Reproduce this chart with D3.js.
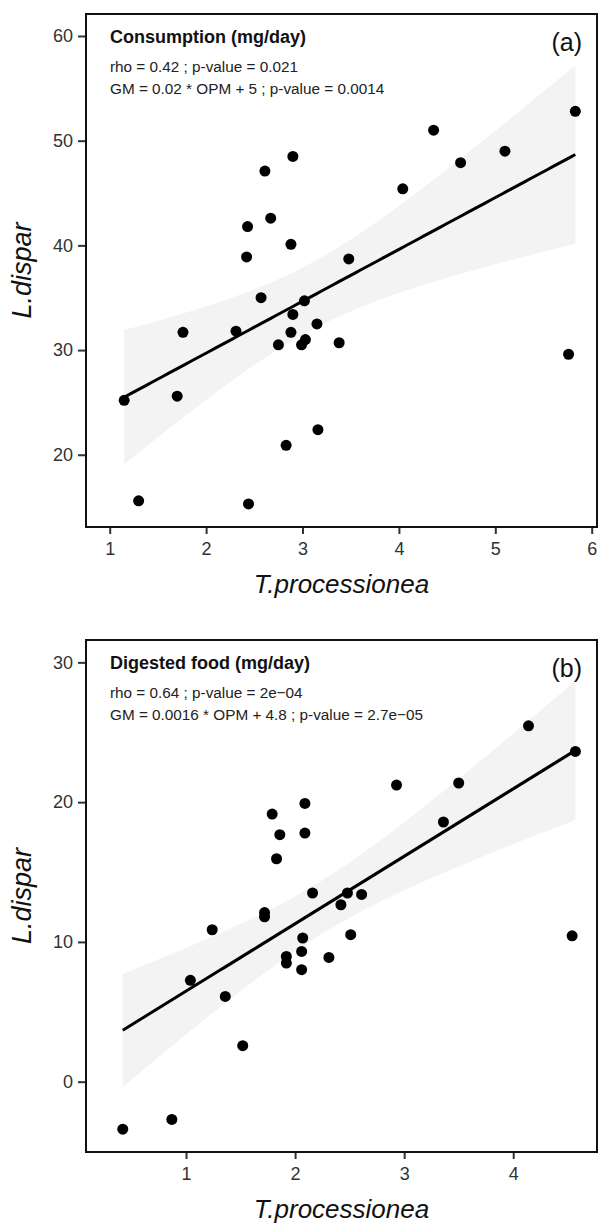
<!DOCTYPE html>
<html>
<head>
<meta charset="utf-8">
<script src="https://cdn.jsdelivr.net/npm/d3@7"></script>
<style>
body { margin: 0; background: #fff; }
svg { display: block; }
text { font-family: "Liberation Sans", Arial, sans-serif; }
</style>
</head>
<body>
<svg id="chart" width="598" height="1226"></svg>
<script>
// (a) consumption, mg/day
const consX = [1.15, 1.30, 1.70, 1.76, 2.31, 2.42, 2.43, 2.44, 2.57, 2.61, 2.67, 2.75, 2.83, 2.88, 2.88,
	2.90, 2.90, 2.99, 3.03, 3.02, 3.15, 3.16, 3.38, 3.48, 4.04, 4.36, 4.64, 5.10, 5.76, 5.83]
const consY = [25.2, 15.6, 25.6, 31.7, 31.8, 38.9, 41.8, 15.3, 35.0, 47.1, 42.6, 30.5, 20.9, 40.1, 31.7,
	33.4, 48.5, 30.5, 31.0, 34.7, 32.5, 22.4, 30.7, 38.7, 45.4, 51.0, 47.9, 49.0, 29.6, 52.8]

// (b) digested food, mg/day
const digX = [0.42, 0.87, 1.04, 1.24, 1.36, 1.52, 1.72, 1.72, 1.79, 1.83, 1.86, 1.92, 1.92, 2.06, 2.06,
	2.07, 2.09, 2.09, 2.16, 2.31, 2.42, 2.48, 2.51, 2.61, 2.93, 3.36, 3.50, 4.14, 4.54, 4.57]
const digY = [-3.4, -2.7, 7.25, 10.87, 6.1, 2.58, 12.1, 11.8, 19.15, 15.95, 17.67, 8.96, 8.49, 9.32, 8.01,
	10.28, 19.91, 17.79, 13.5, 8.89, 12.66, 13.5, 10.52, 13.4, 21.22, 18.58, 21.37, 25.46, 10.44, 23.63]

const consXTicks = [1, 2, 3, 4, 5, 6]
const consYTicks = [20, 30, 40, 50, 60]
const digXTicks = [1, 2, 3, 4]
const digYTicks = [0, 10, 20, 30]

const panelTitles = ["Consumption (mg/day)", "Digested food (mg/day)"]
const rhoLines = ["rho = 0.42 ; p-value = 0.021", "rho = 0.64 ; p-value = 2e\u221204"]
const gmLines = ["GM = 0.02 * OPM + 5 ; p-value = 0.0014", "GM = 0.0016 * OPM + 4.8 ; p-value = 2.7e\u221205"]
const tags = ["(a)", "(b)"]
const xTitle = "T.processionea"
const yTitle = "L.dispar"

const svg = d3.select('#chart')
const left = 86, right = 597

// least squares fit + 95% band, like geom_smooth(method = "lm")
function fitLine(xs, ys) {
	const n = xs.length
	const mx = d3.mean(xs), my = d3.mean(ys)
	let sxx = 0, sxy = 0
	for (let i = 0; i < n; i++) {
		sxx += (xs[i] - mx) ** 2
		sxy += (xs[i] - mx) * (ys[i] - my)
	}
	const b = sxy / sxx
	const a = my - b * mx
	let sse = 0
	for (let i = 0; i < n; i++) sse += (ys[i] - a - b * xs[i]) ** 2
	const s = Math.sqrt(sse / (n - 2))
	const t = 2.048 // df = 28
	const [x0, x1] = d3.extent(xs)
	const grid = d3.range(0, 81).map(k => x0 + (x1 - x0) * k / 80)
	return grid.map(x => {
		const fit = a + b * x
		const se = s * Math.sqrt(1 / n + (x - mx) ** 2 / sxx)
		return {x: x, y: fit, lo: fit - t * se, hi: fit + t * se}
	})
}

function drawPanel(i, xs, ys, xDomain, yDomain, xTicks, yTicks, top, bottom) {
	const x = d3.scaleLinear().domain(xDomain).range([left, right])
	const y = d3.scaleLinear().domain(yDomain).range([bottom, top])
	const g = svg.append("g")

	const fit = fitLine(xs, ys)

	g.append("path")
		.datum(fit)
		.attr("fill", "#f3f3f3")
		.attr("d", d3.area().x(d => x(d.x)).y0(d => y(d.lo)).y1(d => y(d.hi)))

	g.append("path")
		.datum(fit)
		.attr("fill", "none")
		.attr("stroke", "#000")
		.attr("stroke-width", 3)
		.attr("d", d3.line().x(d => x(d.x)).y(d => y(d.y)))

	g.selectAll("circle")
		.data(xs.map((v, k) => [v, ys[k]]))
		.join("circle")
		.attr("cx", d => x(d[0]))
		.attr("cy", d => y(d[1]))
		.attr("r", 5.5)
		.attr("fill", "#000")

	// axes
	const ax = g.append("g")
		.attr("transform", `translate(0,${bottom})`)
		.call(d3.axisBottom(x).tickValues(xTicks).tickFormat(d3.format("d")).tickSize(7).tickPadding(8).tickSizeOuter(0))
	const ay = g.append("g")
		.attr("transform", `translate(${left},0)`)
		.call(d3.axisLeft(y).tickValues(yTicks).tickFormat(d3.format("d")).tickSize(8).tickPadding(5).tickSizeOuter(0))
	for (let a of [ax, ay]) {
		a.select(".domain").remove()
		a.selectAll(".tick line").attr("stroke", "#333").attr("stroke-width", 2)
		a.selectAll(".tick text").attr("fill", "#333").style("font-size", "18px")
	}

	g.append("rect")
		.attr("x", left).attr("y", top)
		.attr("width", right - left).attr("height", bottom - top)
		.attr("fill", "none")
		.attr("stroke", "#111")
		.attr("stroke-width", 2)

	// annotations
	g.append("text").attr("x", 110).attr("y", top + 29)
		.style("font-size", "18px").style("font-weight", "bold").attr("fill", "#111")
		.text(panelTitles[i])
	g.append("text").attr("x", 110).attr("y", top + 58)
		.style("font-size", "15.3px").attr("fill", "#222")
		.text(rhoLines[i])
	g.append("text").attr("x", 110).attr("y", top + 80)
		.style("font-size", "15.3px").attr("fill", "#222")
		.text(gmLines[i])
	g.append("text").attr("x", right - 15).attr("y", top + 37)
		.attr("text-anchor", "end")
		.style("font-size", "25px").attr("fill", "#111")
		.text(tags[i])

	g.append("text")
		.attr("x", (left + right) / 2).attr("y", bottom + 66)
		.attr("text-anchor", "middle")
		.style("font-size", "26px").style("font-style", "italic").attr("fill", "#111")
		.text(xTitle)
	g.append("text")
		.attr("transform", `translate(31,${(top + bottom) / 2}) rotate(-90)`)
		.attr("text-anchor", "middle")
		.style("font-size", "27px").style("font-style", "italic").attr("fill", "#111")
		.text(yTitle)
}

drawPanel(0, consX, consY, [0.754, 6.055], [13.1, 62.1], consXTicks, consYTicks, 14, 527)
drawPanel(1, digX, digY, [0.083, 4.768], [-5.03, 31.6], digXTicks, digYTicks, 640, 1152)
</script>
</body>
</html>
